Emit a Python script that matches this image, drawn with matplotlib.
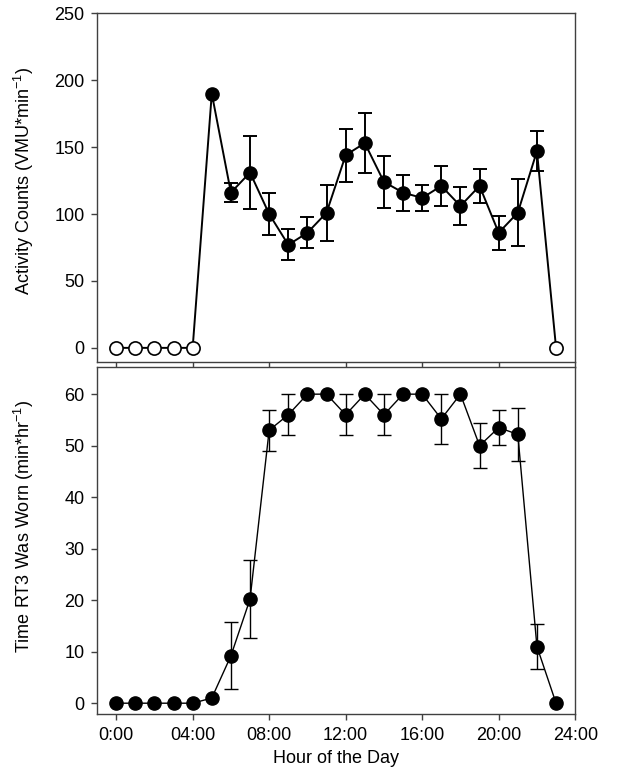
import matplotlib
matplotlib.use('Agg')
import matplotlib.pyplot as plt

plt.rcParams['font.family'] = ['Liberation Sans', 'DejaVu Sans']
plt.rcParams['mathtext.fontset'] = 'custom'
plt.rcParams['mathtext.rm'] = 'Liberation Sans'
plt.rcParams['mathtext.default'] = 'rm'

hours = list(range(24))
tick_hours = [0, 4, 8, 12, 16, 20, 24]
tick_labels = ['0:00', '04:00', '08:00', '12:00', '16:00', '20:00', '24:00']

# activity counts (VMU/min), open circles = no data (plotted at 0)
counts = [0, 0, 0, 0, 0, 190, 116, 131, 100, 77, 86, 101, 144, 153, 124, 116,
          112, 121, 106, 121, 86, 101, 147, 0]
counts_err = [0, 0, 0, 0, 0, 0, 7, 27.5, 15.5, 11.7, 11.7, 21, 19.7, 22.5, 19.5,
              13.5, 9.5, 14.7, 14.5, 13, 12.6, 25.2, 14.7, 0]
open_hours = [0, 1, 2, 3, 4, 23]

# time RT3 was worn (min/hr)
worn = [0, 0, 0, 0, 0, 1, 9.2, 20.2, 53, 56, 60, 60, 56, 60, 56, 60, 60, 55.2,
        60, 50, 53.5, 52.2, 11, 0]
worn_err = [0, 0, 0, 0, 0, 0, 6.5, 7.6, 4, 4, 0, 0, 4, 0, 4, 0, 0, 4.8, 0, 4.4,
            3.4, 5.2, 4.3, 0]

fig = plt.figure(figsize=(6.3, 7.8), dpi=100)
ax1 = fig.add_axes([0.154, 0.536, 0.759, 0.447])
ax2 = fig.add_axes([0.154, 0.0846, 0.759, 0.4444])

spine_col = '#404040'

# top panel
ax1.plot(hours, counts, color='black', lw=1.4, zorder=2)
err_x = [h for h in hours if counts_err[h] > 0]
ax1.errorbar(err_x, [counts[h] for h in err_x], yerr=[counts_err[h] for h in err_x],
             fmt='none', ecolor='black', elinewidth=1.4, capsize=5, capthick=1.4, zorder=1)
filled = [h for h in hours if h not in open_hours]
ax1.plot(filled, [counts[h] for h in filled], 'o', color='black', ms=9.5, zorder=3)
ax1.plot(open_hours, [counts[h] for h in open_hours], 'o', mfc='white', mec='black',
         mew=1.2, ms=9.5, zorder=3)
ax1.set_xlim(-1, 24)
ax1.set_ylim(-10.5, 250)
ax1.set_yticks([0, 50, 100, 150, 200, 250])
ax1.set_xticks(tick_hours)
ax1.set_xticklabels([])
ax1.set_ylabel('Activity Counts (VMU*min$^{-1}$)', fontsize=13)
ax1.yaxis.set_label_coords(-0.128, 0.52)

# bottom panel
ax2.plot(hours, worn, color='black', lw=1.0, zorder=2)
err_x2 = [h for h in hours if worn_err[h] > 0]
ax2.errorbar(err_x2, [worn[h] for h in err_x2], yerr=[worn_err[h] for h in err_x2],
             fmt='none', ecolor='black', elinewidth=1.0, capsize=5, capthick=1.0, zorder=1)
ax2.plot(hours, worn, 'o', color='black', ms=9.5, zorder=3)
ax2.set_xlim(-1, 24)
ax2.set_ylim(-2.1, 65.2)
ax2.set_yticks([0, 10, 20, 30, 40, 50, 60])
ax2.set_xticks(tick_hours)
ax2.set_xticklabels(tick_labels)
ax2.set_xlabel('Hour of the Day', fontsize=13, labelpad=5)
ax2.set_ylabel('Time RT3 Was Worn (min*hr$^{-1}$)', fontsize=13)
ax2.yaxis.set_label_coords(-0.128, 0.54)

for ax in (ax1, ax2):
    for s in ax.spines.values():
        s.set_color(spine_col)
        s.set_linewidth(1.0)
    ax.tick_params(direction='out', length=4, width=1.0, color=spine_col,
                   labelsize=13, labelcolor='black', pad=5)

fig.savefig('out.png', dpi=100)
